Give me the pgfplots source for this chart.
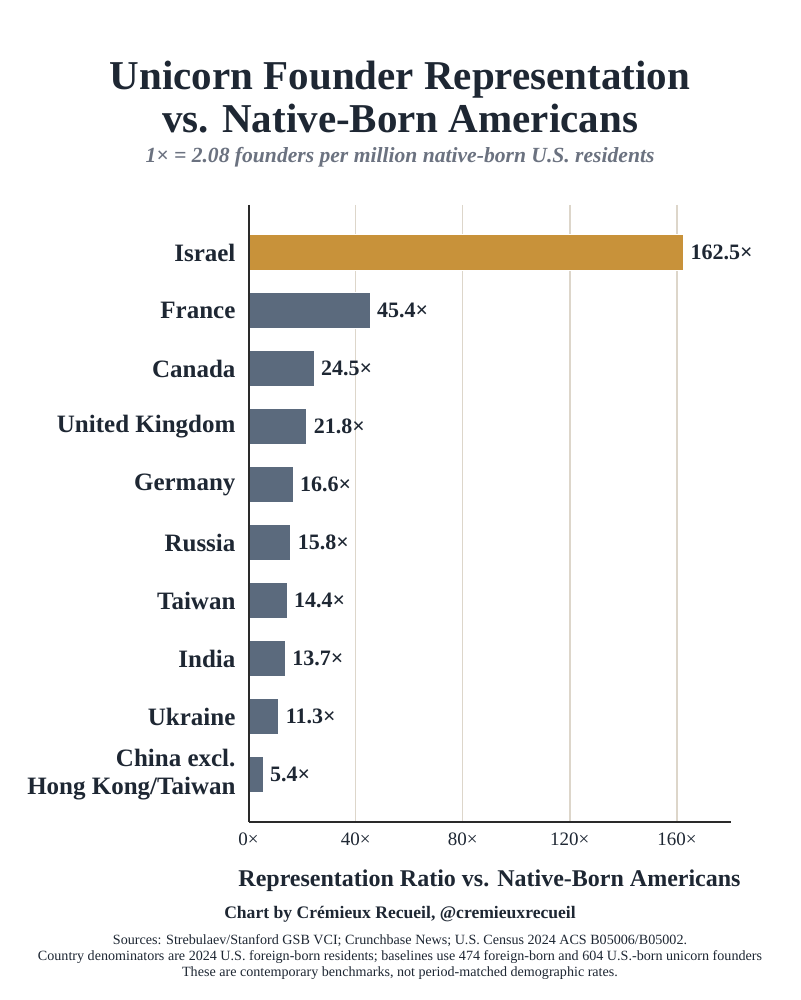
\documentclass[border=0pt]{standalone}
\usepackage{fontspec}
\setmainfont{Liberation Serif}
\usepackage{pgfplots}
\pgfplotsset{compat=1.18}
\definecolor{gold}{HTML}{C8923A}
\definecolor{slate}{HTML}{5B6A7D}
\definecolor{ink}{HTML}{1E2733}
\definecolor{subgray}{HTML}{6B7280}
\definecolor{gridtan}{HTML}{DDD6CA}
\definecolor{axdark}{HTML}{2A2A2A}
\begin{document}
\begin{tikzpicture}
\useasboundingbox (0,0) rectangle (400pt,-500pt);
\fill[white] (0,0) rectangle (400pt,-500pt);
\begin{axis}[
  at={(124.25pt,-411pt)}, anchor=south west,
  scale only axis, width=241pt, height=308.5pt,
  xbar, bar width=18pt,
  xmin=0, xmax=180, ymin=-0.82, ymax=9.82, y dir=reverse,
  clip=false,
  axis x line*=bottom, axis y line*=left,
  axis line style={-, line width=1pt, color=axdark},
  major tick length=0pt,
  xtick={0,40,80,120,160},
  xticklabel={\pgfmathprintnumber{\tick}×},
  /pgf/number format/assume math mode=true,
  xticklabel style={font=\fontsize{9.5}{11}\selectfont, text=ink, yshift=-2pt},
  ytick={0,1,2,3,4,5,6,7,8,9},
  yticklabels={Israel,France,Canada,United Kingdom,Germany,Russia,Taiwan,India,Ukraine,{China excl.\\Hong Kong/Taiwan}},
  yticklabel style={font=\bfseries\fontsize{12.5}{14}\selectfont, text=ink, align=right, xshift=-3pt},
  xmajorgrids, major grid style={line width=0.75pt, color=gridtan},
  point meta=x,
  nodes near coords={\pgfmathprintnumber[fixed,fixed zerofill,precision=1]{\pgfplotspointmeta}×},
  nodes near coords style={font=\bfseries\fontsize{11}{13}\selectfont, text=ink, anchor=west, xshift=0pt},
]
\addplot[fill=gold, draw=white, line width=0.4pt, bar shift=0pt] coordinates {(162.5,0)};
\addplot[fill=slate, draw=white, line width=0.4pt, bar shift=0pt] coordinates {
(45.4,1) (24.5,2) (21.8,3) (16.6,4) (15.8,5) (14.4,6) (13.7,7) (11.3,8) (5.4,9)};
\draw[axdark, line width=1pt] (rel axis cs:0,0) -- (rel axis cs:0,1);
\end{axis}
\begin{scope}[x=0.5pt,y=-0.5pt]
\node[anchor=base, text=ink, font=\bfseries\fontsize{20.5}{24}\selectfont] at (400,90) {Unicorn Founder Representation};
\node[anchor=base, text=ink, font=\bfseries\fontsize{20.5}{24}\selectfont] at (400,133) {vs. Native-Born Americans};
\node[anchor=base, text=subgray, font=\bfseries\itshape\fontsize{10.8}{12}\selectfont] at (400,163) {1× = 2.08 founders per million native-born U.S. residents};
\node[anchor=base, text=ink, font=\bfseries\fontsize{12}{14}\selectfont] at (489.5,886) {Representation Ratio vs. Native-Born Americans};
\node[anchor=base, text=ink, font=\bfseries\fontsize{8.8}{10}\selectfont] at (400,918) {Chart by Crémieux Recueil, @cremieuxrecueil};
\node[anchor=base, text=ink, font=\fontsize{7.05}{8}\selectfont] at (400,944) {Sources: Strebulaev/Stanford GSB VCI; Crunchbase News; U.S. Census 2024 ACS B05006/B05002.};
\node[anchor=base, text=ink, font=\fontsize{7.05}{8}\selectfont] at (400,960.5) {Country denominators are 2024 U.S. foreign-born residents; baselines use 474 foreign-born and 604 U.S.-born unicorn founders};
\node[anchor=base, text=ink, font=\fontsize{7.05}{8}\selectfont] at (400,976) {These are contemporary benchmarks, not period-matched demographic rates.};
\end{scope}
\end{tikzpicture}
\end{document}
